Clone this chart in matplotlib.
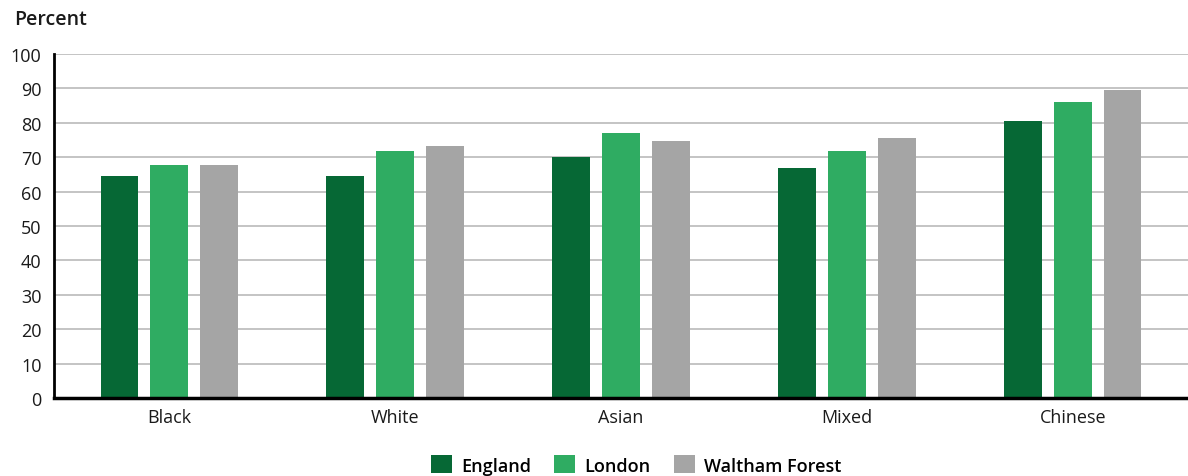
import numpy as np
import matplotlib.pyplot as plt

# Data
categories = ["Black", "White", "Asian", "Mixed", "Chinese"]
england = [64.5, 64.5, 70.2, 67.0, 80.6]
london = [67.6, 71.7, 77.0, 71.7, 86.0]
waltham_forest = [67.6, 73.2, 74.8, 75.5, 89.4]
series_names = ["England", "London", "Waltham Forest"]
colors = ["#066835", "#2fac62", "#a5a5a5"]
yticks = [0, 10, 20, 30, 40, 50, 60, 70, 80, 90, 100]

plt.rcParams['font.family'] = ['Open Sans', 'DejaVu Sans']

fig = plt.figure(figsize=(11.88, 4.77), dpi=100)
ax = fig.add_axes([54 / 1188, 1 - 399 / 477, 1 - 54 / 1188, (399 - 55) / 477])

x = np.arange(len(categories))
width = 0.168
offset = 0.22
for i, (vals, name, c) in enumerate(zip([england, london, waltham_forest], series_names, colors)):
    ax.bar(x + (i - 1) * offset, vals, width, color=c, label=name, zorder=3)

ax.set_xlim(-0.51, len(categories) - 0.49)
ax.set_ylim(0, 100)
ax.set_yticks(yticks)
ax.set_xticks(x)
ax.set_xticklabels(categories)
ax.yaxis.grid(True, color="#c4c4c4", linewidth=1.4, zorder=0)
ax.tick_params(axis='both', length=0, labelsize=13, colors="#1a1a1a")
ax.tick_params(axis='y', pad=9)
ax.tick_params(axis='x', pad=7)

for s in ["top", "right"]:
    ax.spines[s].set_visible(False)
ax.spines["left"].set_linewidth(2)
ax.spines["bottom"].set_linewidth(2.5)
ax.spines["left"].set_zorder(4)
ax.spines["bottom"].set_zorder(4)

fig.text(14 / 1188, 1 - 20 / 477, "Percent", fontsize=14, fontweight='semibold',
         va='center', ha='left', color="#1a1a1a")

fig.legend(loc='center', bbox_to_anchor=(636 / 1188, 1 - 466 / 477), ncol=3,
           frameon=False, handlelength=1.15, handleheight=1.15, handletextpad=0.5,
           columnspacing=1.3, prop={'size': 13, 'weight': 'semibold'})

fig.savefig("out.png", dpi=100)
